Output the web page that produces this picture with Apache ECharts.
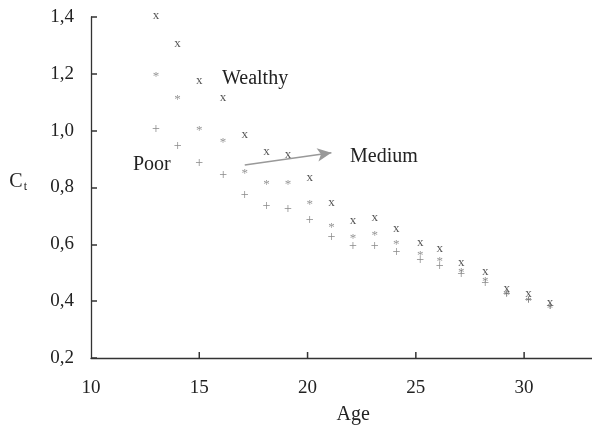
<!DOCTYPE html>
<html>
<head>
<meta charset="utf-8">
<script src="https://cdn.jsdelivr.net/npm/echarts@6/dist/echarts.min.js"></script>
<style>html,body{margin:0;padding:0;background:#fff;}#c{width:592px;height:433px;}</style>
</head>
<body>
<div id="c"></div>
<script>
var ages = [13.0, 14.0, 15.0, 16.1, 17.1, 18.1, 19.1, 20.1, 21.1, 22.1, 23.1, 24.1, 25.2, 26.1, 27.1, 28.2, 29.2, 30.2, 31.2];
var wealthy = [1.40, 1.30, 1.17, 1.11, 0.98, 0.92, 0.91, 0.83, 0.74, 0.68, 0.69, 0.65, 0.60, 0.58, 0.53, 0.50, 0.44, 0.42, 0.39];
var medium = [1.20, 1.12, 1.01, 0.97, 0.86, 0.82, 0.82, 0.75, 0.67, 0.63, 0.64, 0.61, 0.57, 0.55, 0.51, 0.48, 0.43, 0.41, 0.385];
var poor = [1.00, 0.94, 0.88, 0.84, 0.77, 0.73, 0.72, 0.68, 0.62, 0.59, 0.59, 0.57, 0.54, 0.52, 0.49, 0.46, 0.42, 0.40, 0.38];
var xTicks = [15, 20, 25, 30];
var groupNames = ['Wealthy', 'Medium', 'Poor'];
var markerChars = ['x', '*', '+'];
var arrowFrom = [17.1, 0.879];
var arrowTo = [21.1, 0.922];

var FONT = '"Liberation Serif", "DejaVu Serif", serif';
var Y_MIN = 0.2, Y_MAX = 1.4;
function pairs(ys) { return ages.map(function (a, i) { return [a, ys[i]]; }); }
function markerSeries(name, ys, ch, color, size, dy) {
  return {
    name: name, type: 'scatter', data: pairs(ys),
    symbol: 'circle', symbolSize: 1,
    itemStyle: { color: 'rgba(0,0,0,0)' },
    label: { show: true, position: 'inside', formatter: ch, color: color,
      fontFamily: FONT, fontSize: size, offset: [0, dy] },
    emphasis: { disabled: true }, silent: true
  };
}
var chart = echarts.init(document.getElementById('c'), null, { renderer: 'canvas' });
var s2 = markerSeries(groupNames[1], medium, markerChars[1], '#7a7a7a', 13, 3);
s2.markLine = {
  silent: true, symbol: ['none', 'arrow'], symbolSize: [10, 14],
  label: { show: false },
  lineStyle: { color: '#999', width: 1.5, type: 'solid' },
  data: [[{ coord: arrowFrom }, { coord: arrowTo }]]
};
var labelGraphics = [
  { type: 'text', left: 222, top: 69, style: { text: groupNames[0], font: '20px ' + FONT, fill: '#222' } },
  { type: 'text', left: 350, top: 147, style: { text: groupNames[1], font: '20px ' + FONT, fill: '#222' } },
  { type: 'text', left: 133, top: 155, style: { text: groupNames[2], font: '20px ' + FONT, fill: '#222' } }
];
chart.setOption({
  animation: false,
  backgroundColor: '#fff',
  grid: { left: 91, right: -40.4, top: 17, bottom: 75, outerBoundsMode: 'none', containLabel: false },
  xAxis: {
    type: 'value', min: 10, max: 35, interval: 5,
    name: 'Age', nameLocation: 'middle', nameGap: 47,
    nameTextStyle: { fontFamily: FONT, fontSize: 20, color: '#222', padding: [0, 17, 0, 0] },
    axisLine: { show: true, onZero: false, lineStyle: { color: '#333', width: 1.3 } },
    axisTick: { show: false },
    axisLabel: { fontFamily: FONT, fontSize: 19, color: '#222', margin: 21 },
    splitLine: { show: false }
  },
  yAxis: {
    type: 'value', min: Y_MIN, max: Y_MAX, interval: 0.2,
    name: '{c|C}{t|t}', nameLocation: 'middle', nameGap: 64, nameRotate: 0,
    nameTextStyle: { fontFamily: FONT, fontSize: 20, color: '#222', padding: [0, 0, 11, 0],
      rich: { c: { fontFamily: FONT, fontSize: 20, color: '#222' },
              t: { fontFamily: FONT, fontSize: 12, color: '#222', padding: [10, 0, 0, 1] } } },
    axisLine: { show: true, onZero: false, lineStyle: { color: '#333', width: 1.3 } },
    axisTick: { show: true, inside: true, length: 6, lineStyle: { color: '#333', width: 1.5 } },
    axisLabel: { fontFamily: FONT, fontSize: 19, color: '#222', margin: 17,
      formatter: function (v) { return v.toFixed(1).replace('.', ','); } },
    splitLine: { show: false }
  },
  graphic: labelGraphics,
  series: [
    markerSeries(groupNames[0], wealthy, markerChars[0], '#2a2a2a', 13, -1.5),
    s2,
    markerSeries(groupNames[2], poor, markerChars[2], '#6a6a6a', 14, -1)
  ]
});
// Upward-pointing x-axis ticks, positioned through the chart's own x scale
var tickGraphics = xTicks.map(function (v) {
  var p = chart.convertToPixel({ gridIndex: 0 }, [v, Y_MIN]);
  return { type: 'line', z: 100, silent: true,
    shape: { x1: p[0], y1: p[1], x2: p[0], y2: p[1] - 6 },
    style: { stroke: '#333', lineWidth: 1.5 } };
});
chart.setOption({ graphic: labelGraphics.concat(tickGraphics) });
</script>
</body>
</html>
